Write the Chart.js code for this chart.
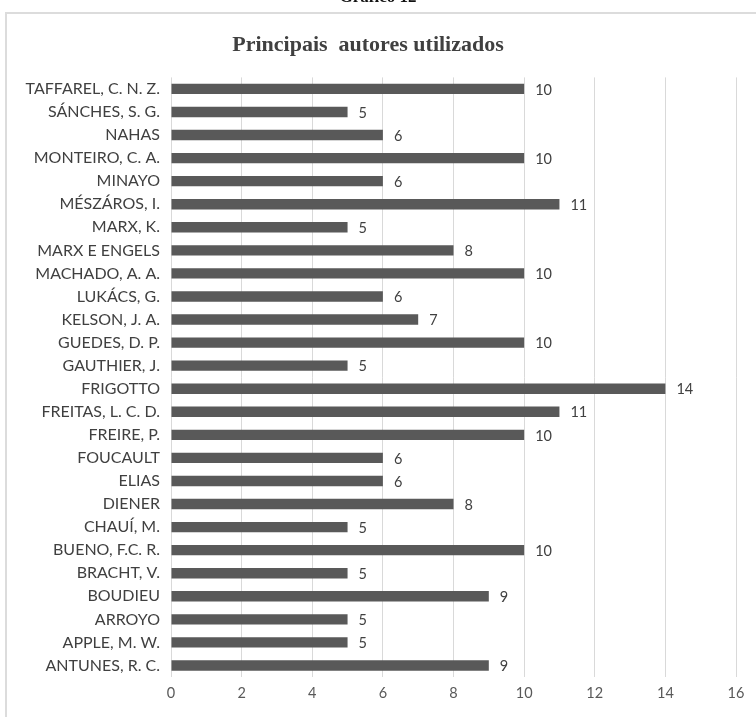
<!DOCTYPE html>
<html>
<head>
<meta charset="utf-8">
<script src="https://cdn.jsdelivr.net/npm/chart.js@4"></script>
<style>
  html, body { margin: 0; padding: 0; background: #fff; overflow: hidden; }
  #wrap { position: relative; width: 756px; height: 717px; overflow: hidden; background: #fff; }
  #caption {
    position: absolute; left: 0; width: 756px; top: -13px; line-height: 17px; text-align: center;
    font: bold 17px "Liberation Serif", serif; color: #111; z-index: 2;
  }
  #frame {
    position: absolute; left: 5px; top: 12px; width: 800px; height: 800px;
    border: 2px solid #dcdcdc; box-sizing: border-box;
  }
  canvas { position: absolute; left: 0; top: 0; }
</style>
</head>
<body>
<div id="wrap">
  <div id="frame"></div>
  <canvas id="c" width="756" height="717"></canvas>
  <div id="caption">Gráfico 12</div>
</div>
<script>
const authors = [
  'TAFFAREL, C. N. Z.', 'SÁNCHES, S. G.', 'NAHAS', 'MONTEIRO, C. A.', 'MINAYO',
  'MÉSZÁROS, I.', 'MARX, K.', 'MARX E ENGELS', 'MACHADO, A. A.', 'LUKÁCS, G.',
  'KELSON, J. A.', 'GUEDES, D. P.', 'GAUTHIER, J.', 'FRIGOTTO', 'FREITAS, L. C. D.',
  'FREIRE, P.', 'FOUCAULT', 'ELIAS', 'DIENER', 'CHAUÍ, M.',
  'BUENO, F.C. R.', 'BRACHT, V.', 'BOUDIEU', 'ARROYO', 'APPLE, M. W.', 'ANTUNES, R. C.'
];
const citations = [10, 5, 6, 10, 6, 11, 5, 8, 10, 6, 7, 10, 5, 14, 11, 10, 6, 6, 8, 5, 10, 5, 9, 5, 5, 9];
const xTicks = [0, 2, 4, 6, 8, 10, 12, 14, 16];

// Writes each bar's value just past its end
const valueLabels = {
  id: 'valueLabels',
  afterDatasetsDraw(chart) {
    const ctx = chart.ctx;
    const meta = chart.getDatasetMeta(0);
    ctx.save();
    ctx.font = '14.5px Lato, "Open Sans", sans-serif';
    ctx.fillStyle = '#404040';
    ctx.textAlign = 'left';
    ctx.textBaseline = 'middle';
    meta.data.forEach((bar, i) => {
      ctx.fillText(String(citations[i]), bar.x + 11, bar.y + 1);
    });
    ctx.restore();
  }
};

new Chart(document.getElementById('c'), {
  type: 'bar',
  data: {
    labels: authors,
    datasets: [{
      data: citations,
      backgroundColor: '#595959',
      borderWidth: 0,
      categoryPercentage: 1.0,
      barPercentage: 0.45
    }]
  },
  options: {
    indexAxis: 'y',
    responsive: false,
    animation: false,
    devicePixelRatio: 1,
    layout: { padding: { left: 0, right: 20, top: 0, bottom: 0 } },
    plugins: {
      legend: { display: false },
      tooltip: { enabled: false },
      title: {
        display: true,
        text: 'Principais  autores utilizados',
        color: '#404040',
        font: { family: '"Liberation Serif", serif', size: 22, weight: 'bold' },
        padding: { top: 32, bottom: 19 }
      }
    },
    scales: {
      x: {
        min: 0, max: 16,
        afterBuildTicks(scale) { scale.ticks = xTicks.map(v => ({ value: v })); },
        afterFit(scale) { scale.height = 40; },
        grid: { color: '#d9d9d9', lineWidth: 1, drawTicks: false },
        border: { display: false },
        ticks: {
          padding: 8,
          color: '#595959',
          font: { family: 'Lato, "Open Sans", sans-serif', size: 14.5 }
        }
      },
      y: {
        afterFit(scale) { scale.width = 171; },
        grid: { display: false, drawTicks: false },
        border: { display: false },
        ticks: {
          padding: 11,
          autoSkip: false,
          color: '#404040',
          font: { family: 'Lato, "Open Sans", sans-serif', size: 16 }
        }
      }
    }
  },
  plugins: [valueLabels]
});
</script>
</body>
</html>
